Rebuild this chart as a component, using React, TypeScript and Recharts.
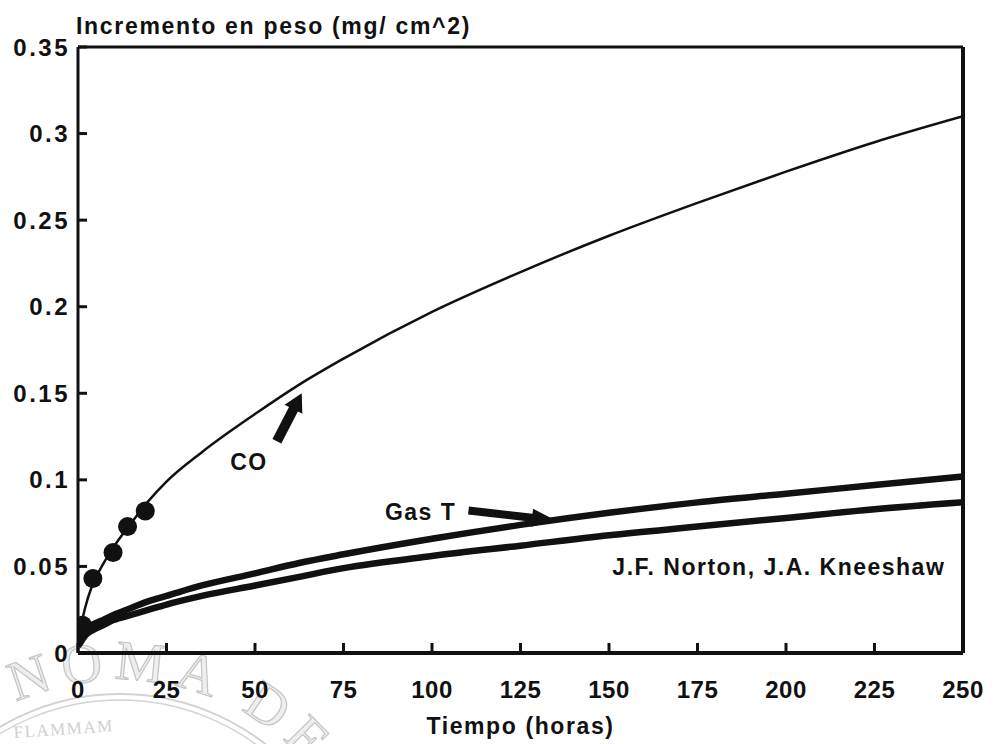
import React from "react";
import {
  ComposedChart,
  Line,
  Scatter,
  XAxis,
  YAxis,
  ReferenceLine,
  ReferenceDot,
} from "recharts";

// sampling times (h) for the fitted curves
const hours = [0, 1, 2, 4, 7, 10, 15, 20, 25, 35, 50, 62.5, 75, 100, 125, 150, 175, 200, 225, 250];
const coFit = [0.003, 0.017, 0.026, 0.039, 0.051, 0.061, 0.075, 0.088, 0.099, 0.116, 0.138, 0.155, 0.17, 0.197, 0.22, 0.241, 0.26, 0.278, 0.295, 0.31];
const gasT = [0.005, 0.009, 0.012, 0.016, 0.019, 0.022, 0.026, 0.03, 0.033, 0.039, 0.046, 0.052, 0.057, 0.066, 0.074, 0.081, 0.087, 0.092, 0.097, 0.102];
const nortonKneeshaw = [0.004, 0.007, 0.01, 0.013, 0.016, 0.019, 0.022, 0.025, 0.028, 0.033, 0.039, 0.044, 0.049, 0.056, 0.062, 0.068, 0.073, 0.078, 0.083, 0.087];

// measured CO points
const coHours = [1.3, 4.2, 9.9, 14, 19];
const coMeasured = [0.016, 0.043, 0.058, 0.073, 0.082];

const xTicks = [0, 25, 50, 75, 100, 125, 150, 175, 200, 225, 250];
const yTicks = [0, 0.05, 0.1, 0.15, 0.2, 0.25, 0.3, 0.35];

const coLine = hours.map((t, i) => ({ t, v: coFit[i] }));
const gasLine = hours.map((t, i) => ({ t, v: gasT[i] }));
const nortonLine = hours.map((t, i) => ({ t, v: nortonKneeshaw[i] }));
const coPoints = coHours.map((t, i) => ({ t, v: coMeasured[i] }));

const INK = "#111";
const FONT = "'Liberation Sans', Arial, sans-serif";

const XTick = (props: any) => {
  const { x, y, payload } = props;
  return (
    <g>
      <line x1={x} y1={y} x2={x} y2={y - 10} stroke={INK} strokeWidth={3} />
      <text
        x={x}
        y={y + 36}
        textAnchor="middle"
        dominantBaseline="central"
        fill={INK}
        fontFamily={FONT}
        fontWeight="bold"
        fontSize={24}
        letterSpacing={0.5}
      >
        {payload.value}
      </text>
    </g>
  );
};

const YTick = (props: any) => {
  const { x, y, payload } = props;
  return (
    <g>
      <line x1={x} y1={y} x2={x + 9} y2={y} stroke={INK} strokeWidth={3} />
      <text
        x={x - 8}
        y={y}
        textAnchor="end"
        dominantBaseline="central"
        fill={INK}
        fontFamily={FONT}
        fontWeight="bold"
        fontSize={24}
        letterSpacing={2.5}
      >
        {payload.value}
      </text>
    </g>
  );
};

// arrow drawn back from its tip at (cx, cy), angle in screen degrees
const arrow = (angle: number, len: number, shaft: number, headLen: number, headW: number) => (p: any) => {
  const pts = [
    [0, 0],
    [-headLen, -headW / 2],
    [-headLen, -shaft / 2],
    [-len, -shaft / 2],
    [-len, shaft / 2],
    [-headLen, shaft / 2],
    [-headLen, headW / 2],
  ]
    .map((q) => q.join(","))
    .join(" ");
  return (
    <polygon
      points={pts}
      fill={INK}
      transform={`translate(${p.cx},${p.cy}) rotate(${angle})`}
    />
  );
};

const note = (text: string, anchor: "start" | "middle" | "end") => (p: any) => (
  <text
    x={p.cx}
    y={p.cy}
    textAnchor={anchor}
    dominantBaseline="central"
    fill={INK}
    fontFamily={FONT}
    fontWeight="bold"
    fontSize={23}
    letterSpacing={1.5}
  >
    {text}
  </text>
);

// faint university seal behind the plot
const Seal = () => (
  <svg width={996} height={744} style={{ position: "absolute", left: 0, top: 0 }}>
    <defs>
      <path id="sealArc" d="M -130 930 A 250 250 0 1 1 370 930 A 250 250 0 1 1 -130 930" />
    </defs>
    <text
      fontFamily="'Liberation Serif', serif"
      fontSize={56}
      letterSpacing={10}
      fill="#eeeeee"
      stroke="#c4c4c4"
      strokeWidth={1.2}
    >
      <textPath href="#sealArc" startOffset={90}>
        AUTÓNOMA DE NUEVO LEÓN
      </textPath>
    </text>
    <circle cx={120} cy={930} r={236} fill="none" stroke="#d2d2d2" strokeWidth={2} />
    <circle cx={120} cy={930} r={230} fill="none" stroke="#d2d2d2" strokeWidth={1.5} />
    <text
      x={14}
      y={738}
      fontFamily="'Liberation Serif', serif"
      fontSize={17}
      fill="#cfcfcf"
      letterSpacing={1.5}
      transform="rotate(-4 14 738)"
    >
      FLAMMAM
    </text>
  </svg>
);

export default function App() {
  return (
    <div
      style={{
        position: "absolute",
        left: 0,
        top: 0,
        width: 996,
        height: 744,
        background: "#fff",
        overflow: "hidden",
      }}
    >
      <Seal />
      <div style={{ position: "absolute", left: 0, top: 0 }}>
        <ComposedChart
          width={996}
          height={744}
          margin={{ top: 47, right: 33, bottom: 0, left: 0 }}
        >
          <XAxis
            dataKey="t"
            type="number"
            domain={[0, 250]}
            ticks={xTicks}
            height={91}
            tickSize={0}
            tickMargin={0}
            tickLine={false}
            axisLine={{ stroke: INK, strokeWidth: 4 }}
            tick={<XTick />}
            interval={0}
            allowDataOverflow
            label={{
              value: "Tiempo (horas)",
              position: "insideBottom",
              offset: 10,
              fill: INK,
              fontFamily: FONT,
              fontWeight: "bold",
              fontSize: 23,
              letterSpacing: 1.6,
            }}
          />
          <YAxis
            type="number"
            domain={[0, 0.35]}
            ticks={yTicks}
            width={78}
            tickSize={0}
            tickMargin={0}
            tickLine={false}
            axisLine={{ stroke: INK, strokeWidth: 3 }}
            tick={<YTick />}
            interval={0}
            allowDataOverflow
            label={{
              position: "insideTopRight",
              content: (p: any) => (
                <text
                  x={p.viewBox.x + p.viewBox.width - 2}
                  y={p.viewBox.y - 21}
                  dominantBaseline="central"
                  fill={INK}
                  fontFamily={FONT}
                  fontWeight="bold"
                  fontSize={23}
                  letterSpacing={1.7}
                >
                  Incremento en peso (mg/ cm^2)
                </text>
              ),
            }}
          />
          <ReferenceLine y={0.35} stroke={INK} strokeWidth={3} />
          <ReferenceLine x={250} stroke={INK} strokeWidth={4} />

          <Line
            data={nortonLine}
            dataKey="v"
            type="monotone"
            stroke={INK}
            strokeWidth={6.5}
            dot={false}
            isAnimationActive={false}
          />
          <Line
            data={gasLine}
            dataKey="v"
            type="monotone"
            stroke={INK}
            strokeWidth={6.5}
            dot={false}
            isAnimationActive={false}
          />
          <Line
            data={coLine}
            dataKey="v"
            type="monotone"
            stroke={INK}
            strokeWidth={2.5}
            dot={false}
            isAnimationActive={false}
          />
          <Scatter
            data={coPoints}
            dataKey="v"
            fill={INK}
            isAnimationActive={false}
            shape={(p: any) => <circle cx={p.cx} cy={p.cy} r={9.5} fill={INK} />}
          />

          <ReferenceDot x={63.2} y={0.15} shape={arrow(-62.6, 54, 10, 18, 20)} />
          <ReferenceDot x={48.3} y={0.1104} shape={note("CO", "middle")} />
          <ReferenceDot x={135} y={0.0765} shape={arrow(6.6, 88, 8, 24, 18)} />
          <ReferenceDot x={86.7} y={0.0815} shape={note("Gas T", "start")} />
          <ReferenceDot x={245} y={0.0497} shape={note("J.F. Norton, J.A. Kneeshaw", "end")} />
        </ComposedChart>
      </div>
    </div>
  );
}
